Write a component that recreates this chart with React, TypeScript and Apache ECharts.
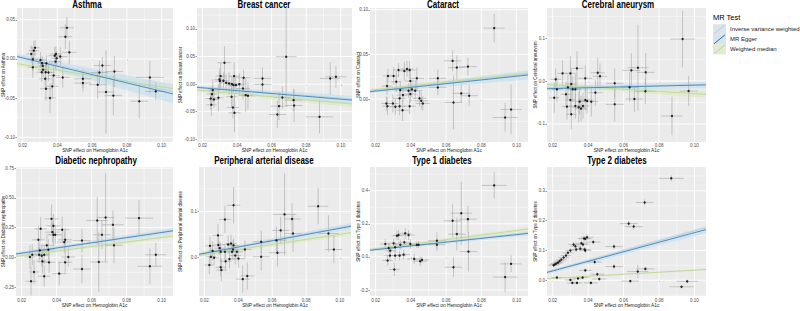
import React, { useEffect, useRef } from "react";
import * as echarts from "echarts";

// ---------- data ----------
const PANEL_TITLES = [
  "Asthma",
  "Breast cancer",
  "Cataract",
  "Cerebral aneurysm",
  "Diabetic nephropathy",
  "Peripheral arterial disease",
  "Type 1 diabetes",
  "Type 2 diabetes",
];
const Y_TITLES = PANEL_TITLES.map((t) => "SNP effect on " + t);
const X_TITLE = "SNP effect on Hemoglobin A1c";

const X_TICKS = [0.02, 0.04, 0.06, 0.08, 0.1];
const X_RANGE = [0.0168, 0.1065];

const Y_RANGES = [
  [-0.106, 0.065],
  [-0.105, 0.138],
  [-0.048, 0.102],
  [-0.142, 0.17],
  [-0.325, 0.76],
  [-0.085, 0.198],
  [-0.236, 0.543],
  [-0.053, 0.38],
];
const Y_TICKS = [
  [-0.1, -0.05, 0, 0.05],
  [-0.1, -0.05, 0, 0.05, 0.1],
  [0, 0.05, 0.1],
  [-0.1, 0, 0.1],
  [-0.25, 0, 0.25, 0.5, 0.75],
  [0, 0.1],
  [-0.2, 0, 0.2, 0.4],
  [0, 0.1, 0.2, 0.3],
];
const Y_DECIMALS = [2, 2, 2, 1, 2, 1, 1, 1];

// [x, y, x half-error, y half-error]
const ASTHMA = [
  [0.025, 0.0063, 0.003, 0.011], [0.0265, 0.0106, 0.003, 0.012], [0.0272, 0.0143, 0.003, 0.01],
  [0.0259, -0.0004, 0.003, 0.015], [0.0259, -0.0106, 0.003, 0.013], [0.0303, -0.0013, 0.003, 0.01],
  [0.0312, -0.0055, 0.003, 0.009], [0.0316, -0.0089, 0.003, 0.011], [0.031, -0.0169, 0.003, 0.012],
  [0.0318, -0.0139, 0.003, 0.01], [0.0333, -0.0169, 0.0035, 0.012], [0.0337, -0.0055, 0.0035, 0.01],
  [0.033, -0.0253, 0.0035, 0.014], [0.0349, -0.0173, 0.0035, 0.011], [0.0335, -0.038, 0.0035, 0.015],
  [0.0358, -0.0498, 0.0035, 0.019], [0.0379, -0.0211, 0.0035, 0.012], [0.0371, -0.035, 0.0035, 0.016],
  [0.0385, 0.0042, 0.0035, 0.011], [0.0392, 0.0063, 0.0035, 0.01], [0.0396, 0.0008, 0.0035, 0.009],
  [0.039, -0.0034, 0.0035, 0.01], [0.0417, 0.003, 0.004, 0.012], [0.0431, -0.0236, 0.004, 0.013],
  [0.0446, 0.0283, 0.004, 0.016], [0.0455, 0.0397, 0.004, 0.014], [0.0469, 0.0084, 0.004, 0.015],
  [0.0547, -0.0253, 0.005, 0.012], [0.0547, -0.0308, 0.005, 0.011], [0.0632, -0.0329, 0.005, 0.018],
  [0.0642, -0.0173, 0.005, 0.015], [0.0659, -0.0084, 0.005, 0.011], [0.068, -0.0422, 0.005, 0.053],
  [0.0722, -0.0468, 0.005, 0.025], [0.0728, -0.016, 0.005, 0.02], [0.0871, -0.054, 0.005, 0.022],
  [0.0932, -0.0236, 0.008, 0.021], [0.0966, -0.0414, 0.006, 0.011],
];
const BREAST_CANCER = [
  [0.0327, 0.0388, 0.004, 0.03], [0.0305, 0.0145, 0.003, 0.025], [0.0298, 0.0085, 0.003, 0.02],
  [0.0301, 0.0055, 0.003, 0.015], [0.0321, 0.0061, 0.003, 0.015], [0.0337, 0.0024, 0.0035, 0.015],
  [0.0354, 0.0012, 0.0035, 0.02], [0.037, 0.0, 0.0035, 0.015], [0.0383, 0.0145, 0.0035, 0.025],
  [0.0379, -0.0018, 0.0035, 0.015], [0.0393, -0.0018, 0.0035, 0.015], [0.0413, 0.0, 0.004, 0.02],
  [0.0434, -0.0079, 0.004, 0.02], [0.0438, 0.0115, 0.004, 0.015], [0.0259, -0.0109, 0.003, 0.02],
  [0.0255, -0.0182, 0.003, 0.015], [0.0247, -0.0261, 0.003, 0.02], [0.0266, -0.0279, 0.003, 0.015],
  [0.0292, -0.0248, 0.003, 0.025], [0.0251, -0.0376, 0.003, 0.02], [0.0368, -0.023, 0.0035, 0.02],
  [0.0376, -0.0424, 0.0035, 0.02], [0.0385, -0.0521, 0.0035, 0.035], [0.045, -0.02, 0.004, 0.03],
  [0.0463, -0.0212, 0.004, 0.025], [0.0547, 0.0103, 0.005, 0.02], [0.0547, -0.0006, 0.005, 0.015],
  [0.0684, 0.0497, 0.006, 0.088], [0.0662, -0.0242, 0.005, 0.02], [0.0643, -0.04, 0.005, 0.025],
  [0.0633, -0.0551, 0.005, 0.025], [0.0727, -0.0291, 0.005, 0.02], [0.073, -0.0388, 0.005, 0.03],
  [0.0877, -0.0594, 0.008, 0.03], [0.0939, 0.0103, 0.006, 0.03], [0.0972, 0.0133, 0.006, 0.02],
];
const CATARACT = [
  [0.027, 0.0259, 0.003, 0.008], [0.0265, 0.0146, 0.003, 0.01], [0.0261, -0.0049, 0.003, 0.008],
  [0.0267, -0.0079, 0.003, 0.01], [0.0302, 0.0259, 0.003, 0.01], [0.033, 0.0326, 0.003, 0.008],
  [0.0363, 0.0315, 0.0035, 0.01], [0.0378, 0.0338, 0.0035, 0.009], [0.0393, 0.0326, 0.0035, 0.01],
  [0.0317, 0.0195, 0.003, 0.012], [0.034, 0.0101, 0.0035, 0.01], [0.0387, 0.0094, 0.0035, 0.008],
  [0.0397, 0.0203, 0.0035, 0.012], [0.0406, 0.0109, 0.0035, 0.009], [0.0425, 0.0094, 0.004, 0.01],
  [0.0434, 0.0233, 0.004, 0.012], [0.0336, 0.0008, 0.0035, 0.01], [0.0355, 0.0045, 0.0035, 0.008],
  [0.0397, 0.0056, 0.0035, 0.01], [0.0449, 0.0008, 0.004, 0.009], [0.0459, -0.0019, 0.004, 0.01],
  [0.0468, -0.0049, 0.004, 0.008], [0.0298, -0.0049, 0.003, 0.01], [0.0312, -0.0086, 0.003, 0.009],
  [0.0336, -0.0079, 0.0035, 0.01], [0.0353, -0.0124, 0.0035, 0.012], [0.0393, -0.0079, 0.0035, 0.009],
  [0.0553, 0.0233, 0.005, 0.01], [0.0553, 0.0131, 0.005, 0.009], [0.0637, 0.0428, 0.005, 0.012],
  [0.0661, 0.0353, 0.005, 0.014], [0.0724, 0.0364, 0.005, 0.01], [0.0686, 0.0064, 0.005, 0.01],
  [0.0731, 0.0038, 0.005, 0.012], [0.0642, -0.0038, 0.005, 0.03], [0.0873, 0.0795, 0.006, 0.016],
  [0.0935, -0.0206, 0.007, 0.016], [0.0969, -0.0116, 0.006, 0.028],
];
const CEREBRAL_ANEURYSM = [
  [0.0454, 0.0194, 0.004, 0.035], [0.0467, 0.0109, 0.004, 0.03], [0.0441, -0.0271, 0.004, 0.03],
  [0.0418, -0.0481, 0.004, 0.035], [0.0394, -0.0465, 0.004, 0.03], [0.0384, -0.0442, 0.004, 0.025],
  [0.0384, 0.0062, 0.004, 0.03], [0.055, -0.0054, 0.005, 0.035], [0.055, -0.0543, 0.005, 0.04],
  [0.0634, -0.0147, 0.005, 0.035], [0.0644, 0.0248, 0.005, 0.04], [0.0661, -0.0419, 0.005, 0.03],
  [0.0681, 0.031, 0.006, 0.1], [0.0725, 0.0202, 0.005, 0.045], [0.0723, -0.024, 0.006, 0.03],
  [0.0873, -0.0814, 0.006, 0.045], [0.0933, 0.0977, 0.007, 0.066], [0.0967, -0.0233, 0.005, 0.035],
  [0.0256, 0.0178, 0.003, 0.03], [0.03, 0.0178, 0.003, 0.04], [0.0217, 0.0039, 0.003, 0.025],
  [0.0224, -0.0194, 0.003, 0.03], [0.0209, -0.0388, 0.003, 0.035], [0.0275, -0.031, 0.003, 0.03],
  [0.0305, -0.007, 0.003, 0.035], [0.0313, -0.0194, 0.003, 0.03], [0.03, -0.0442, 0.003, 0.035],
  [0.0281, -0.0597, 0.003, 0.03], [0.0305, -0.0775, 0.003, 0.035], [0.0328, -0.0581, 0.0035, 0.03],
  [0.0347, -0.0612, 0.0035, 0.035], [0.036, -0.0643, 0.0035, 0.03], [0.0371, -0.0581, 0.0035, 0.03],
  [0.0352, -0.048, 0.0035, 0.03], [0.0328, -0.0194, 0.0035, 0.035], [0.0286, -0.0147, 0.003, 0.03],
  [0.0337, 0.0295, 0.0035, 0.04],
];
const DIABETIC_NEPHROPATHY = [
  [0.0371, 0.324, 0.004, 0.12], [0.0382, 0.265, 0.004, 0.1], [0.0376, 0.212, 0.004, 0.09],
  [0.0382, 0.19, 0.004, 0.1], [0.0392, 0.19, 0.004, 0.08], [0.0309, 0.24, 0.0035, 0.1],
  [0.0296, 0.148, 0.0035, 0.12], [0.0344, 0.101, 0.0035, 0.08], [0.0353, 0.064, 0.0035, 0.09],
  [0.0304, 0.059, 0.0035, 0.08], [0.03, 0.022, 0.0035, 0.07], [0.0315, 0.014, 0.0035, 0.09],
  [0.0248, 0.003, 0.003, 0.1], [0.0261, 0.022, 0.003, 0.09], [0.0329, 0.022, 0.0035, 0.08],
  [0.0319, -0.034, 0.0035, 0.1], [0.0357, -0.042, 0.0035, 0.09], [0.0271, -0.123, 0.003, 0.1],
  [0.0254, -0.201, 0.003, 0.12], [0.0449, 0.148, 0.004, 0.1], [0.0444, 0.128, 0.004, 0.09],
  [0.0432, 0.232, 0.004, 0.11], [0.0415, -0.137, 0.004, 0.1], [0.0449, -0.042, 0.004, 0.09],
  [0.0467, 0.003, 0.004, 0.08], [0.0329, -0.159, 0.0035, 0.09], [0.0545, 0.142, 0.005, 0.1],
  [0.0545, -0.098, 0.005, 0.12], [0.0632, 0.31, 0.006, 0.2], [0.0659, 0.19, 0.005, 0.12],
  [0.068, 0.335, 0.005, 0.37], [0.0641, -0.039, 0.005, 0.25], [0.0722, 0.274, 0.006, 0.12],
  [0.0728, 0.101, 0.005, 0.15], [0.0871, 0.33, 0.008, 0.15], [0.0967, 0.022, 0.006, 0.1],
  [0.0933, -0.075, 0.007, 0.15],
];
const PERIPHERAL_ARTERIAL = [
  [0.0372, 0.114, 0.004, 0.04], [0.0321, 0.083, 0.0035, 0.03], [0.028, 0.048, 0.003, 0.025],
  [0.0233, 0.025, 0.003, 0.02], [0.0248, 0.014, 0.003, 0.02], [0.0238, 0.001, 0.003, 0.02],
  [0.0229, -0.017, 0.003, 0.02], [0.0257, -0.001, 0.003, 0.015], [0.0282, 0.027, 0.003, 0.02],
  [0.029, 0.02, 0.003, 0.015], [0.0296, 0.012, 0.003, 0.02], [0.0296, -0.022, 0.003, 0.02],
  [0.03, -0.028, 0.003, 0.025], [0.0325, -0.009, 0.0035, 0.02], [0.0321, 0.012, 0.0035, 0.015],
  [0.0348, -0.004, 0.0035, 0.02], [0.0357, 0.03, 0.0035, 0.02], [0.0363, 0.012, 0.0035, 0.015],
  [0.0369, 0.017, 0.0035, 0.02], [0.0372, 0.026, 0.0035, 0.015], [0.0382, 0.004, 0.0035, 0.02],
  [0.0392, 0.012, 0.0035, 0.015], [0.0401, -0.003, 0.0035, 0.02], [0.0439, 0.017, 0.004, 0.02],
  [0.0453, -0.041, 0.004, 0.03], [0.0426, -0.048, 0.004, 0.03], [0.0535, 0.034, 0.005, 0.025],
  [0.0535, 0.001, 0.005, 0.03], [0.0625, 0.037, 0.006, 0.03], [0.0631, 0.01, 0.005, 0.03],
  [0.065, 0.059, 0.005, 0.03], [0.0673, 0.094, 0.007, 0.09], [0.0717, 0.084, 0.005, 0.035],
  [0.0723, 0.052, 0.005, 0.04], [0.0871, 0.112, 0.006, 0.04], [0.0932, 0.052, 0.006, 0.04],
  [0.0964, 0.017, 0.005, 0.03], [0.034, 0.028, 0.0035, 0.02],
];
const TYPE1_DIABETES = [
  [0.0873, 0.432, 0.007, 0.08], [0.0686, 0.264, 0.006, 0.19], [0.0637, 0.218, 0.005, 0.1],
  [0.0724, 0.228, 0.005, 0.08], [0.0661, 0.138, 0.005, 0.1], [0.0727, 0.032, 0.005, 0.12],
  [0.0642, -0.062, 0.005, 0.06], [0.0548, 0.098, 0.005, 0.05], [0.0548, 0.074, 0.005, 0.04],
  [0.0935, -0.122, 0.007, 0.09], [0.0969, -0.042, 0.006, 0.05], [0.0321, 0.128, 0.003, 0.03],
  [0.033, 0.132, 0.003, 0.03], [0.0368, 0.142, 0.0035, 0.03], [0.0387, 0.132, 0.0035, 0.03],
  [0.0302, 0.082, 0.003, 0.03], [0.034, 0.074, 0.0035, 0.03], [0.0363, 0.088, 0.0035, 0.02],
  [0.0397, 0.078, 0.0035, 0.03], [0.0434, 0.074, 0.004, 0.02], [0.0444, 0.074, 0.004, 0.02],
  [0.0311, 0.058, 0.003, 0.03], [0.0336, 0.008, 0.0035, 0.03], [0.0359, 0.014, 0.0035, 0.03],
  [0.0311, 0.008, 0.003, 0.03], [0.0419, -0.012, 0.004, 0.03], [0.0453, -0.026, 0.004, 0.03],
  [0.0463, -0.018, 0.004, 0.02], [0.0306, -0.076, 0.003, 0.04], [0.0255, 0.078, 0.003, 0.03],
  [0.0274, 0.054, 0.003, 0.03], [0.0281, 0.008, 0.003, 0.03], [0.0268, -0.022, 0.003, 0.03],
  [0.0283, 0.038, 0.003, 0.03],
];
const TYPE2_DIABETES = [
  [0.0205, 0.05, 0.003, 0.006], [0.0212, 0.053, 0.003, 0.006], [0.022, 0.056, 0.003, 0.006],
  [0.023, 0.059, 0.003, 0.006], [0.0239, 0.064, 0.003, 0.006], [0.0249, 0.069, 0.003, 0.006],
  [0.0262, 0.076, 0.003, 0.007], [0.0275, 0.083, 0.003, 0.007], [0.0286, 0.092, 0.003, 0.007],
  [0.03, 0.1, 0.003, 0.007], [0.0318, 0.12, 0.003, 0.008], [0.0328, 0.114, 0.003, 0.008],
  [0.0333, 0.103, 0.003, 0.008], [0.0356, 0.106, 0.0035, 0.008], [0.0362, 0.124, 0.0035, 0.008],
  [0.0371, 0.12, 0.0035, 0.008], [0.0377, 0.14, 0.0035, 0.01], [0.0394, 0.144, 0.0035, 0.01],
  [0.038, 0.103, 0.0035, 0.008], [0.0369, 0.009, 0.0035, 0.006], [0.0224, 0.009, 0.003, 0.006],
  [0.03, 0.001, 0.003, 0.006], [0.0311, -0.009, 0.003, 0.006], [0.0337, -0.009, 0.003, 0.006],
  [0.0343, 0.006, 0.003, 0.006], [0.0869, 0.342, 0.007, 0.01], [0.0719, 0.261, 0.005, 0.01],
  [0.0629, 0.19, 0.005, 0.01], [0.0657, 0.18, 0.005, 0.01], [0.0384, 0.139, 0.0035, 0.008],
  [0.0429, 0.128, 0.004, 0.008], [0.0384, 0.1, 0.0035, 0.008], [0.0546, 0.113, 0.005, 0.008],
  [0.0437, 0.061, 0.004, 0.008], [0.0384, 0.033, 0.0035, 0.006], [0.0546, 0.046, 0.005, 0.008],
  [0.068, 0.029, 0.006, 0.022], [0.0723, 0.038, 0.005, 0.008], [0.0452, 0.02, 0.004, 0.006],
  [0.0463, 0.004, 0.004, 0.006], [0.0638, -0.003, 0.005, 0.006], [0.0416, -0.009, 0.004, 0.006],
  [0.0959, -0.004, 0.006, 0.006], [0.0927, -0.022, 0.007, 0.006],
];
const PANEL_DATA = [
  ASTHMA, BREAST_CANCER, CATARACT, CEREBRAL_ANEURYSM,
  DIABETIC_NEPHROPATHY, PERIPHERAL_ARTERIAL, TYPE1_DIABETES, TYPE2_DIABETES,
];

// Fitted lines: [y at left axis end, y at right axis end]
const EGGER_LINES = [
  [0.003, -0.0447], [-0.006, -0.029], [0.0083, 0.027], [-0.018, -0.009],
  [0.028, 0.223], [0.0065, 0.068], [0.04, 0.142], [0.026, 0.17],
];
const IVW_LINES = [
  [0.004, -0.042], [-0.005, -0.027], [0.009, 0.028], [-0.016, -0.008],
  [0.03, 0.228], [0.007, 0.07], [0.042, 0.146], [0.028, 0.176],
];
const WM_LINES = [
  [-0.006, -0.038], [-0.011, -0.036], [0.01, 0.029], [-0.008, -0.031],
  [0.008, 0.18], [0.004, 0.054], [0.045, 0.168], [0.005, 0.036],
];
// ribbon half-widths [left, right]
const EGGER_BANDS = [
  [0.004, 0.012], [0.003, 0.008], [0.0015, 0.005], [0.005, 0.008],
  [0.015, 0.025], [0.004, 0.007], [0.008, 0.012], [0.006, 0.012],
];
const WM_BANDS = [
  [0.003, 0.006], [0.003, 0.006], [0.0015, 0.003], [0.004, 0.008],
  [0.012, 0.016], [0.003, 0.005], [0.008, 0.012], [0.002, 0.003],
];

const LEGEND_TITLE = "MR Test";
const LEGEND_ITEMS = ["Inverse variance weighted", "MR Egger", "Weighted median"];

// ---------- layout / style ----------
const FONT = "'Liberation Sans', Arial, Helvetica, sans-serif";
const BOXES = [
  { left: 16, top: 8, width: 157, height: 134, yGap: 11, tx: 87, ty: 5 },
  { left: 197, top: 8, width: 155, height: 134, yGap: 14.5, tx: 264, ty: 5 },
  { left: 370, top: 8, width: 158, height: 134, yGap: 9.5, tx: 443, ty: 5 },
  { left: 547, top: 8, width: 159, height: 134, yGap: 9.5, tx: 618, ty: 5 },
  { left: 16, top: 167, width: 157, height: 129, yGap: 10, tx: 96, ty: 161 },
  { left: 199, top: 167, width: 152, height: 129, yGap: 16, tx: 264, ty: 161 },
  { left: 370, top: 167, width: 158, height: 129, yGap: 9.5, tx: 442, ty: 161 },
  { left: 547, top: 167, width: 159, height: 129, yGap: 9.5, tx: 617, ty: 161 },
];
const C_EGGER = "#4584ad";
const C_EGGER_KEY = "#34689c";
const C_IVW = "#b3cfe3";
const C_WM = "#c2d69a";
const C_EGGER_BAND = "rgba(195,222,240,0.6)";
const C_WM_BAND = "rgba(218,234,190,0.6)";
const C_ERR = "#a8a8a8";

function minors(ticks: number[], range: number[]) {
  const s = ticks[1] - ticks[0];
  const out: number[] = [];
  for (let i = -1; i < ticks.length; i++) {
    const v = (i < 0 ? ticks[0] : ticks[i]) + (i < 0 ? -s / 2 : s / 2);
    if (v > range[0] && v < range[1]) out.push(v);
  }
  return out;
}

function buildOption() {
  const grid: any[] = [];
  const xAxis: any[] = [];
  const yAxis: any[] = [];
  const series: any[] = [];
  const graphic: any[] = [];

  BOXES.forEach((b, i) => {
    const yr = Y_RANGES[i];
    grid.push({
      left: b.left, top: b.top, width: b.width, height: b.height,
      show: true, backgroundColor: "#EBEBEB", borderWidth: 0, containLabel: false,
    });
    xAxis.push({
      type: "value", gridIndex: i, min: X_RANGE[0], max: X_RANGE[1],
      axisLine: { show: false },
      axisTick: { show: true, customValues: X_TICKS, length: 1.5, lineStyle: { color: "#333", width: 0.5 } },
      axisLabel: {
        customValues: X_TICKS, fontSize: 4.5, color: "#4d4d4d", margin: i < 4 ? 1 : 1.5,
        fontFamily: FONT, formatter: (v: number) => v.toFixed(2),
      },
      splitLine: { show: false },
      name: X_TITLE, nameLocation: "middle", nameGap: i < 4 ? 5.6 : 7,
      nameMoveOverlap: false,
      nameTextStyle: { fontSize: 4.8, color: "#1a1a1a", fontFamily: FONT },
    });
    yAxis.push({
      type: "value", gridIndex: i, min: yr[0], max: yr[1],
      axisLine: { show: false },
      axisTick: { show: true, customValues: Y_TICKS[i], length: 1.5, lineStyle: { color: "#333", width: 0.5 } },
      axisLabel: {
        customValues: Y_TICKS[i], fontSize: 4.5, color: "#4d4d4d", margin: 2,
        fontFamily: FONT, formatter: (v: number) => v.toFixed(Y_DECIMALS[i]),
      },
      splitLine: { show: false },
      name: Y_TITLES[i], nameLocation: "middle", nameRotate: 90, nameGap: b.yGap,
      nameMoveOverlap: false,
      nameTextStyle: { fontSize: 4.5, color: "#1a1a1a", fontFamily: FONT },
    });

    // grid lines (major / minor) from tick arrays
    const gl: number[][] = [];
    X_TICKS.forEach((v) => gl.push([v, 0]));
    minors(X_TICKS, X_RANGE).forEach((v) => gl.push([v, 1]));
    Y_TICKS[i].forEach((v) => gl.push([v, 2]));
    minors(Y_TICKS[i], yr).forEach((v) => gl.push([v, 3]));
    series.push({
      type: "custom", xAxisIndex: i, yAxisIndex: i, silent: true, z: 1,
      data: gl,
      renderItem: (params: any, api: any) => {
        const v = api.value(0);
        const k = api.value(1);
        const cs = params.coordSys;
        const w = k === 0 || k === 2 ? 0.9 : 0.45;
        if (k < 2) {
          const px = api.coord([v, yr[0]])[0];
          return { type: "line", shape: { x1: px, y1: cs.y, x2: px, y2: cs.y + cs.height }, style: { stroke: "#ffffff", lineWidth: w } };
        }
        const py = api.coord([X_RANGE[0], v])[1];
        return { type: "line", shape: { x1: cs.x, y1: py, x2: cs.x + cs.width, y2: py }, style: { stroke: "#ffffff", lineWidth: w } };
      },
    });

    // ribbons
    const bandSeries = (line: number[], half: number[], fill: string) => ({
      type: "custom", xAxisIndex: i, yAxisIndex: i, silent: true, z: 2, clip: true,
      data: [[X_RANGE[0], line[0] - half[0], line[0] + half[0], X_RANGE[1], line[1] - half[1], line[1] + half[1]]],
      encode: { x: [0, 3], y: [1, 2, 4, 5] },
      renderItem: (_p: any, api: any) => {
        const a = api.coord([api.value(0), api.value(1)]);
        const bb = api.coord([api.value(3), api.value(4)]);
        const c = api.coord([api.value(3), api.value(5)]);
        const d = api.coord([api.value(0), api.value(2)]);
        return { type: "polygon", shape: { points: [a, bb, c, d] }, style: { fill } };
      },
    });
    series.push(bandSeries(WM_LINES[i], WM_BANDS[i], C_WM_BAND));
    series.push(bandSeries(EGGER_LINES[i], EGGER_BANDS[i], C_EGGER_BAND));

    // error bars
    series.push({
      type: "custom", xAxisIndex: i, yAxisIndex: i, silent: true, z: 3, clip: true,
      data: PANEL_DATA[i],
      encode: { x: 0, y: 1 },
      renderItem: (_p: any, api: any) => {
        const x = api.value(0), y = api.value(1), xs = api.value(2), ys = api.value(3);
        const l = api.coord([x - xs, y]);
        const r = api.coord([x + xs, y]);
        const t = api.coord([x, y + ys]);
        const bt = api.coord([x, y - ys]);
        return {
          type: "group",
          children: [
            { type: "line", shape: { x1: l[0], y1: l[1], x2: r[0], y2: r[1] }, style: { stroke: C_ERR, lineWidth: 0.6 } },
            { type: "line", shape: { x1: t[0], y1: t[1], x2: bt[0], y2: bt[1] }, style: { stroke: C_ERR, lineWidth: 0.6 } },
          ],
        };
      },
    });

    // fitted lines
    const fit = (vals: number[], color: string, width: number, name: string) => ({
      type: "line", name, xAxisIndex: i, yAxisIndex: i, silent: true, z: 4,
      data: [[X_RANGE[0], vals[0]], [X_RANGE[1], vals[1]]],
      showSymbol: false, symbol: "none",
      lineStyle: { color, width },
    });
    series.push(fit(WM_LINES[i], C_WM, 0.9, "Weighted median"));
    series.push(fit(IVW_LINES[i], C_IVW, 0.9, "Inverse variance weighted"));
    series.push(fit(EGGER_LINES[i], C_EGGER, 0.9, "MR Egger"));

    // points
    series.push({
      type: "scatter", xAxisIndex: i, yAxisIndex: i, silent: true, z: 5,
      data: PANEL_DATA[i].map((d) => [d[0], d[1]]),
      symbol: "circle", symbolSize: 2.4,
      itemStyle: { color: "#000000" },
    });

    graphic.push({
      type: "text", x: b.tx, y: b.ty, scaleX: 0.8, originX: 0, originY: 0,
      style: {
        text: PANEL_TITLES[i], fontSize: 10, fontWeight: "bold", fontFamily: FONT,
        fill: "#000", align: "center", verticalAlign: "middle",
      },
    });
  });

  // legend
  graphic.push({
    type: "text", x: 713, y: 17.5,
    style: { text: LEGEND_TITLE, fontSize: 7.5, fontFamily: FONT, fill: "#000", align: "left", verticalAlign: "middle" },
  });
  const keyCols = [C_IVW, C_EGGER_KEY, C_WM];
  const keyFills = ["rgba(200,220,235,0.45)", "rgba(195,222,240,0.5)", "rgba(218,234,190,0.5)"];
  LEGEND_ITEMS.forEach((t, k) => {
    const cy = 29.3 + k * 10;
    graphic.push({ type: "rect", shape: { x: 713, y: cy - 5, width: 13, height: 10 }, style: { fill: "#EBEBEB" } });
    graphic.push({ type: "rect", shape: { x: 713, y: cy - 5, width: 13, height: 10 }, style: { fill: keyFills[k] } });
    graphic.push({ type: "line", shape: { x1: 714, y1: cy + 4.5, x2: 725, y2: cy - 4.5 }, style: { stroke: keyCols[k], lineWidth: 1 } });
    graphic.push({
      type: "text", x: 730, y: cy,
      style: { text: t, fontSize: 6, fontFamily: FONT, fill: "#1a1a1a", align: "left", verticalAlign: "middle" },
    });
  });

  return { animation: false, backgroundColor: "#ffffff", grid, xAxis, yAxis, series, graphic };
}

export default function App() {
  const ref = useRef<HTMLDivElement>(null);
  useEffect(() => {
    if (!ref.current) return;
    const chart = echarts.init(ref.current, null, { renderer: "svg" });
    chart.setOption(buildOption() as any);
    return () => chart.dispose();
  }, []);
  return (
    <div
      ref={ref}
      style={{ position: "fixed", left: 0, top: 0, width: 800, height: 311, background: "#fff" }}
    />
  );
}
